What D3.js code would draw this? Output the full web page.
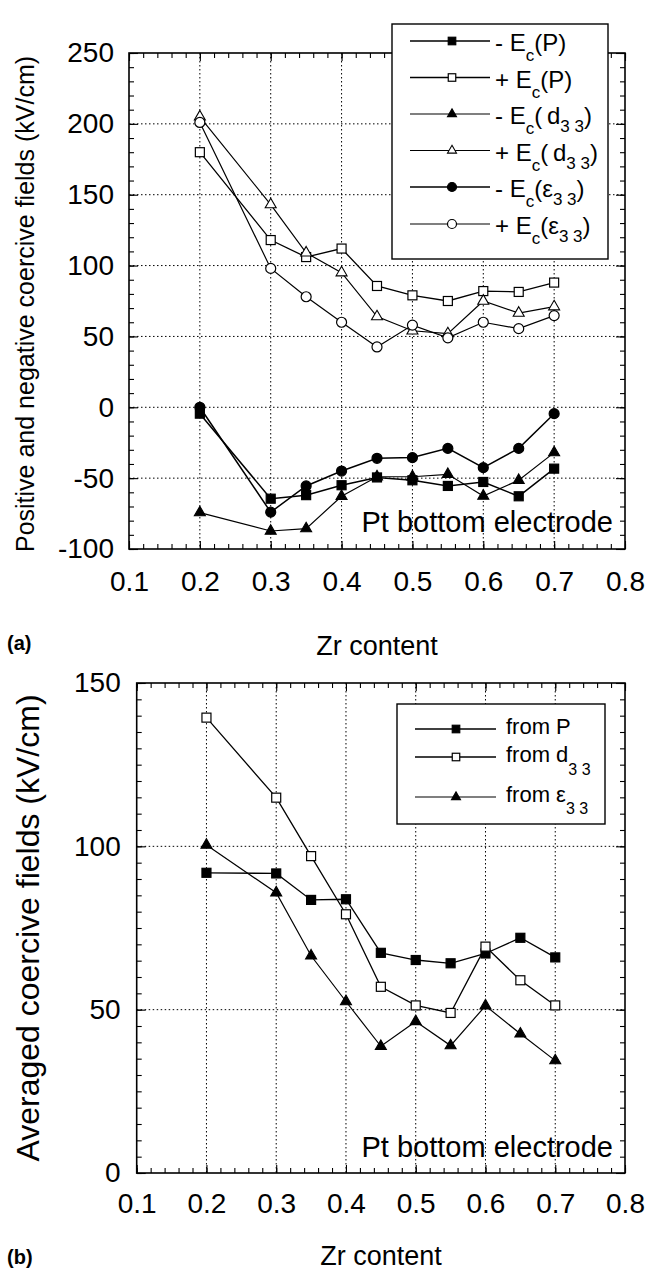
<!DOCTYPE html>
<html><head><meta charset="utf-8">
<script src="https://cdn.jsdelivr.net/npm/d3@7/dist/d3.min.js"></script>
<style>
html,body{margin:0;padding:0;background:#fff;}
svg{display:block;font-family:"Liberation Sans",Arial,sans-serif;}
</style></head>
<body>
<svg id="chart" width="652" height="1274"></svg>
<script>
// ---------- data ----------
const zr = [0.2, 0.3, 0.35, 0.4, 0.45, 0.5, 0.55, 0.6, 0.65, 0.7];
// panel (a)
const negEcP   = [-4.5, -64.5, -62, -55, -49.5, -51.5, -55.5, -52.7, -62.8, -43.3];
const posEcP   = [180, 118, 106, 112, 85.6, 79, 75, 82, 81.4, 88];
const negEcD33 = [-74.3, -87.3, -85.6, -62.8, -49, -49, -47.3, -62.6, -51.5, -32];
const posEcD33 = [205, 143, 109, 95, 64, 54, 52, 75, 66.5, 71];
const negEcE33 = [0, -74, -55.5, -45, -36, -35.5, -29, -42.6, -29, -4.5];
const posEcE33 = [201, 98, 78, 60, 42.6, 58, 49, 60, 55.5, 64.7];
// panel (b)
const avgFromP   = [91.9, 91.7, 83.6, 83.8, 67.4, 65.2, 64.2, 67.2, 72, 66];
const avgFromD33 = [139.4, 114.9, 97, 79.2, 57, 51.3, 49, 69.3, 59, 51.3];
const avgFromE33 = [100.4, 85.8, 66.5, 52.5, 38.8, 46.4, 39, 51.2, 42.6, 34.4];
// ticks
const xTicks = [0.1, 0.2, 0.3, 0.4, 0.5, 0.6, 0.7, 0.8];
const yTicksA = [-100, -50, 0, 50, 100, 150, 200, 250];
const yTicksB = [0, 50, 100, 150];

const svg = d3.select("#chart");

function drawPanel(cfg) {
  const {x, y, xMinor, yMinor, yMajor, xPad, yPad} = cfg;
  const g = svg.append("g");
  const [x0, x1] = x.range();
  const [yb, yt] = y.range();
  // grid
  g.append("g").selectAll("line").data(xTicks.slice(1, -1)).join("line")
    .attr("x1", d => x(d)).attr("x2", d => x(d)).attr("y1", yt).attr("y2", yb)
    .attr("stroke", "#000").attr("stroke-width", 1).attr("stroke-dasharray", "1.5,2.5");
  g.append("g").selectAll("line").data(yMajor.slice(1, -1)).join("line")
    .attr("y1", d => y(d)).attr("y2", d => y(d)).attr("x1", x0).attr("x2", x1)
    .attr("stroke", "#000").attr("stroke-width", 1).attr("stroke-dasharray", "1.5,2.5");
  // ticks (inward, all sides)
  const tickAxes = [
    [d3.axisBottom(x), `translate(0,${yb})`, xMinor, 5],
    [d3.axisBottom(x), `translate(0,${yb})`, xTicks, 8],
    [d3.axisTop(x), `translate(0,${yt})`, xMinor, 5],
    [d3.axisTop(x), `translate(0,${yt})`, xTicks, 8],
    [d3.axisLeft(y), `translate(${x0},0)`, yMinor, 5],
    [d3.axisLeft(y), `translate(${x0},0)`, yMajor, 9],
    [d3.axisRight(y), `translate(${x1},0)`, yMinor, 5],
    [d3.axisRight(y), `translate(${x1},0)`, yMajor, 9]
  ];
  tickAxes.forEach(([ax, tr, vals, len]) => {
    const a = g.append("g").attr("transform", tr)
      .call(ax.tickValues(vals).tickSize(-len).tickFormat(""));
    a.select(".domain").remove();
    a.selectAll("line").attr("stroke", "#000").attr("stroke-width", 1.1);
  });
  // labels
  const xl = g.append("g").attr("transform", `translate(0,${yb})`)
    .call(d3.axisBottom(x).tickValues(xTicks).tickSize(0).tickPadding(xPad).tickFormat(d3.format(".1f")));
  xl.select(".domain").remove();
  xl.selectAll("text").attr("font-size", 28).attr("font-family", "Liberation Sans, Arial, sans-serif").attr("fill", "#000");
  const yl = g.append("g").attr("transform", `translate(${x0},0)`)
    .call(d3.axisLeft(y).tickValues(yMajor).tickSize(0).tickPadding(yPad).tickFormat(d => String(d)));
  yl.select(".domain").remove();
  yl.selectAll("text").attr("font-size", 28).attr("font-family", "Liberation Sans, Arial, sans-serif").attr("fill", "#000");
  // frame
  g.append("rect").attr("x", x0).attr("y", yt).attr("width", x1 - x0).attr("height", yb - yt)
    .attr("fill", "none").attr("stroke", "#000").attr("stroke-width", 1.6);
  return g;
}

function marker(g, cx, cy, type, filled, size) {
  const fill = filled ? "#000" : "#fff";
  if (type === "square") {
    g.append("rect").attr("x", cx - size / 2).attr("y", cy - size / 2)
      .attr("width", size).attr("height", size)
      .attr("fill", fill).attr("stroke", "#000").attr("stroke-width", 1.2);
  } else if (type === "circle") {
    g.append("circle").attr("cx", cx).attr("cy", cy).attr("r", size / 2)
      .attr("fill", fill).attr("stroke", "#000").attr("stroke-width", 1.2);
  } else {
    const area = size * size * Math.sqrt(3) / 4;
    g.append("path").attr("d", d3.symbol().type(d3.symbolTriangle).size(area)())
      .attr("transform", `translate(${cx},${cy})`)
      .attr("fill", fill).attr("stroke", "#000").attr("stroke-width", 1.1);
  }
}

function series(g, x, y, vals, type, filled, size, lw) {
  const line = d3.line().x((d, i) => x(zr[i])).y(d => y(d));
  g.append("path").datum(vals).attr("d", line)
    .attr("fill", "none").attr("stroke", "#000").attr("stroke-width", lw || 1.2);
  vals.forEach((v, i) => marker(g, x(zr[i]), y(v), type, filled, size));
}

// ---------- panel (a) ----------
const xA = d3.scaleLinear().domain([0.1, 0.8]).range([129, 625]);
const yA = d3.scaleLinear().domain([-100, 250]).range([549, 53]);
const gA = drawPanel({x: xA, y: yA, xMinor: d3.range(0.1, 0.8001, 0.02), yMinor: d3.range(-100, 250.1, 10),
  yMajor: yTicksA, xPad: 22, yPad: 15});

const seriesA = [
  {vals: negEcP, type: "square", filled: true, size: 9, lw: 1.5, label: ["- E", "c", "(P)", null, null]},
  {vals: posEcP, type: "square", filled: false, size: 9, lw: 1.3, label: ["+ E", "c", "(P)", null, null]},
  {vals: negEcD33, type: "triangle", filled: true, size: 11, lw: 1.2, label: ["- E", "c", "(\u2009d", "3 3", ")"]},
  {vals: posEcD33, type: "triangle", filled: false, size: 11, lw: 1.2, label: ["+ E", "c", "(\u2009d", "3 3", ")"]},
  {vals: negEcE33, type: "circle", filled: true, size: 10, lw: 1.5, label: ["- E", "c", "(\u03b5", "3 3", ")"]},
  {vals: posEcE33, type: "circle", filled: false, size: 10, lw: 1.2, label: ["+ E", "c", "(\u03b5", "3 3", ")"]}
];
seriesA.forEach(s => series(gA, xA, yA, s.vals, s.type, s.filled, s.size, s.lw));

gA.append("text").attr("x", 613).attr("y", 532).attr("text-anchor", "end")
  .attr("font-size", 29).text("Pt bottom electrode");

// legend (a)
const legA = svg.append("g");
legA.append("rect").attr("x", 392).attr("y", 24).attr("width", 216).attr("height", 235)
  .attr("fill", "#fff").attr("stroke", "#000").attr("stroke-width", 1.4);
const rowsA = [41, 77.5, 114, 150.5, 187, 224];
seriesA.forEach((s, i) => {
  const ry = rowsA[i];
  legA.append("line").attr("x1", 410).attr("x2", 490).attr("y1", ry).attr("y2", ry)
    .attr("stroke", "#000").attr("stroke-width", s.lw);
  marker(legA, 452, ry, s.type, s.filled, s.type === "circle" ? 9 : (s.type === "square" ? 7.5 : 9));
  const t = legA.append("text").attr("x", 495).attr("y", ry + 10).attr("font-size", 24);
  t.append("tspan").text(s.label[0]);
  t.append("tspan").attr("dy", 10).attr("font-size", 17).text(s.label[1]);
  t.append("tspan").attr("dy", -10).text(s.label[2]);
  if (s.label[3]) {
    t.append("tspan").attr("dy", 8).attr("font-size", 17).text(s.label[3]);
    t.append("tspan").attr("dy", -8).text(s.label[4]);
  }
});

// titles (a)
svg.append("text").attr("transform", `translate(34,${(53 + 549) / 2 + 3}) rotate(-90)`)
  .attr("text-anchor", "middle").attr("font-size", 25)
  .text("Positive and negative coercive fields (kV/cm)");
svg.append("text").attr("x", 377).attr("y", 655).attr("text-anchor", "middle")
  .attr("font-size", 27).text("Zr content");
svg.append("text").attr("x", 7).attr("y", 650).attr("font-size", 20).attr("font-weight", "bold").text("(a)");

// ---------- panel (b) ----------
const xB = d3.scaleLinear().domain([0.1, 0.8]).range([136.7, 625]);
const yB = d3.scaleLinear().domain([0, 150]).range([1173, 683]);
const gB = drawPanel({x: xB, y: yB, xMinor: d3.range(0.1, 0.8001, 0.02), yMinor: d3.range(0, 150.1, 5),
  yMajor: yTicksB, xPad: 20, yPad: 16});

const seriesB = [
  {vals: avgFromP, type: "square", filled: true, size: 9, lw: 1.3, label: ["from P", null]},
  {vals: avgFromD33, type: "square", filled: false, size: 9, lw: 1.3, label: ["from d", "3 3"]},
  {vals: avgFromE33, type: "triangle", filled: true, size: 11, lw: 1.2, label: ["from \u03b5", "3 3"]}
];
seriesB.forEach(s => series(gB, xB, yB, s.vals, s.type, s.filled, s.size, s.lw));

gB.append("text").attr("x", 613).attr("y", 1157).attr("text-anchor", "end")
  .attr("font-size", 29).text("Pt bottom electrode");

const legB = svg.append("g");
legB.append("rect").attr("x", 397).attr("y", 704).attr("width", 208).attr("height", 120)
  .attr("fill", "#fff").attr("stroke", "#000").attr("stroke-width", 1.4);
const rowsB = [729, 757, 797];
const subDy = [0, 13, 12];
seriesB.forEach((s, i) => {
  const ry = rowsB[i];
  legB.append("line").attr("x1", 415).attr("x2", 496).attr("y1", ry).attr("y2", ry)
    .attr("stroke", "#000").attr("stroke-width", s.lw);
  marker(legB, 456, ry, s.type, s.filled, s.type === "triangle" ? 9 : 7.5);
  const t = legB.append("text").attr("x", 506).attr("y", ry + 5).attr("font-size", 22);
  t.append("tspan").text(s.label[0]);
  if (s.label[1]) t.append("tspan").attr("dy", subDy[i]).attr("font-size", 16).text(s.label[1]);
});

svg.append("text").attr("transform", `translate(39,${(683 + 1173) / 2}) rotate(-90)`)
  .attr("text-anchor", "middle").attr("font-size", 32)
  .text("Averaged coercive fields (kV/cm)");
svg.append("text").attr("x", 381).attr("y", 1265).attr("text-anchor", "middle")
  .attr("font-size", 27).text("Zr content");
svg.append("text").attr("x", 7).attr("y", 1264).attr("font-size", 20).attr("font-weight", "bold").text("(b)");
</script>
</body></html>
